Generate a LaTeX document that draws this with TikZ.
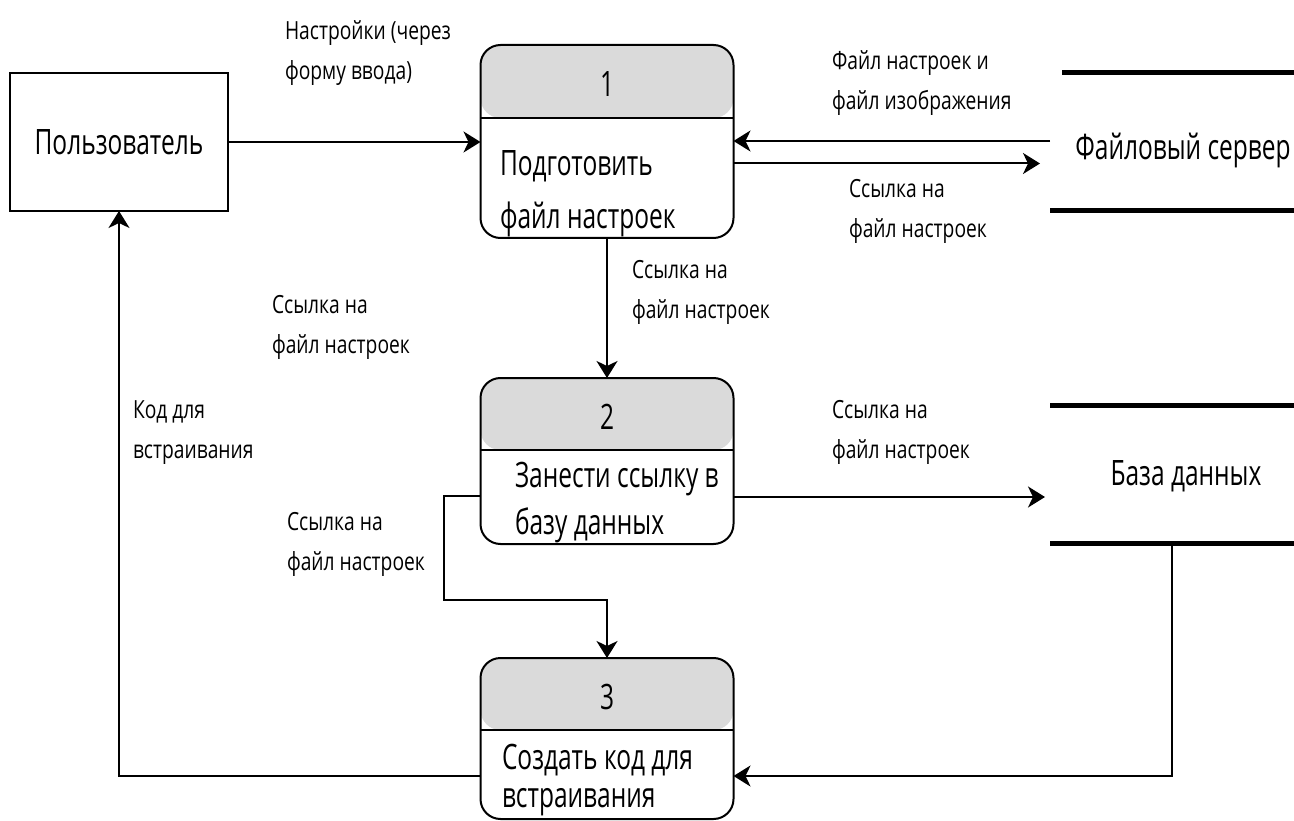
\documentclass[tikz,border=0pt]{standalone}
\usepackage{fontspec}
\setmainfont{Open Sans}[FakeStretch=0.70]
\newfontfamily\lblfont{Open Sans}[FakeStretch=0.77]
\usetikzlibrary{arrows.meta,calc}
\definecolor{headgray}{HTML}{DADADA}
\begin{document}
\begin{tikzpicture}[x=1pt,y=-1pt,
  every node/.style={inner sep=0pt, outer sep=0pt},
  proc/.style={draw, line width=2pt, rounded corners=20pt, minimum width=253pt, fill=white},
  hdr/.style={path picture={
     \fill[headgray] ([yshift=2pt]path picture bounding box.north west) rectangle ([yshift=-#1]path picture bounding box.north east);
     \draw[line width=2pt] ([yshift=-#1]path picture bounding box.north west) -- ([yshift=-#1]path picture bounding box.north east);}},
  arr/.style={line width=2pt, -{Stealth[length=17pt,width=21pt,inset=5pt]}},
  storeline/.style={line width=5pt},
  big/.style={font=\fontsize{35}{42}\selectfont},
  body/.style={align=left, anchor=west, font=\fontsize{35}{#1}\selectfont},
  lbl/.style={font=\lblfont\fontsize{25}{40}\selectfont, align=left, anchor=west},
]
\useasboundingbox (0,0) rectangle (1294,821);

% external entity
\node[draw, line width=2pt, minimum width=218pt, minimum height=138pt, big] (user) at (119,142) {Пользователь};

% processes
\node[proc, hdr=73pt, minimum height=193pt] (b1) at (607,141.5) {};
\node[proc, hdr=72pt, minimum height=166pt] (b2) at (607,461) {};
\node[proc, hdr=72pt, minimum height=161pt] (b3) at (607,738.5) {};

\node[big] (n1) at (607,84) {1};
\node[big] (n2) at (607,417) {2};
\node[big] (n3) at (607,697) {3};

\begin{scope}
  \clip[rounded corners=20pt] (b1.south west) rectangle (b1.north east);
  \node[body=53] (t1) at (500,191) {\strut Подготовить\\\strut файл настроек};
\end{scope}
\begin{scope}
  \clip[rounded corners=20pt] (b2.south west) rectangle (b2.north east);
  \node[body=47] (t2) at (515,502) {\strut Занести ссылку в\\\strut базу данных};
\end{scope}
\begin{scope}
  \clip[rounded corners=20pt] (b3.south west) rectangle (b3.north east);
  \node[body=38] (t3) at (502,781) {\strut Создать код для\\\strut встраивания};
\end{scope}

% data stores
\node[minimum width=244pt, minimum height=138pt] (fs) at (1172,142) {};
\draw[storeline] ([xshift=12pt]fs.north west) -- (fs.north east);
\draw[storeline] (fs.south west) -- (fs.south east);
\node[big, anchor=base] (fst) at (1183,160) {Файловый сервер};

\node[minimum width=244pt, minimum height=138pt] (db) at (1172,474) {};
\draw[storeline] (db.north west) -- (db.north east);
\draw[storeline] (db.south west) -- (db.south east);
\node[big, anchor=base] (dbt) at (1186,485) {База данных};

% flows
\draw[arr] (user.east) -- (user.east -| b1.west);
\draw[arr] ([yshift=1pt]fs.west) -- ([yshift=1pt]fs.west -| b1.east);
\draw[arr, shorten >=10pt] ([yshift=-22pt]b1.east) -- ([yshift=-22pt]b1.east -| fs.west);
\draw[arr] (b1.south) -- (b2.north);
\draw[arr, shorten >=5pt] ([yshift=-36pt]b2.east) -- ([yshift=-36pt]b2.east -| db.west);
\coordinate (c2) at (444,600);
\draw[arr] ([yshift=-35pt]b2.west) -| (c2) -| (b3.north);
\draw[arr] (db.south) |- ([yshift=-37.5pt]b3.east);
\draw[arr] ([yshift=-37.5pt]b3.west) -| (user.south);

% labels
\node[lbl] (l1) at (285,52) {\strut Настройки (через\\\strut форму ввода)};
\node[lbl] (l2) at (832,82) {\strut Файл настроек и\\\strut файл изображения};
\node[lbl] (l3) at (849,210) {\strut Ссылка на\\\strut файл настроек};
\node[lbl] (l4) at (632,291) {\strut Ссылка на\\\strut файл настроек};
\node[lbl] (l5) at (272,325) {\strut Ссылка на\\\strut файл настроек};
\node[lbl] (l6) at (133,430) {\strut Код для\\\strut встраивания};
\node[lbl] (l7) at (832,430) {\strut Ссылка на\\\strut файл настроек};
\node[lbl] (l8) at (287,542) {\strut Ссылка на\\\strut файл настроек};
\end{tikzpicture}
\end{document}
